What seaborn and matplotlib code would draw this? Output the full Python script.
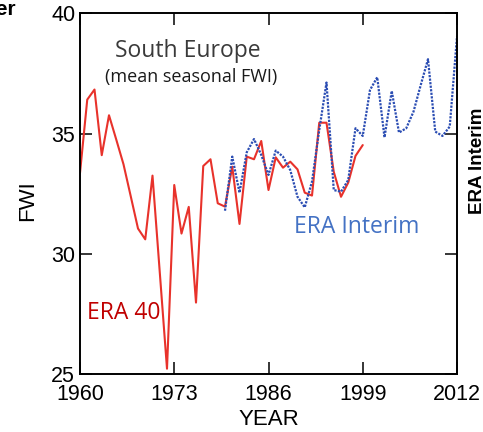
import numpy as np
import pandas as pd
import matplotlib
matplotlib.use("Agg")
import matplotlib.pyplot as plt
import seaborn as sns

# ---- data ----
era40_years = list(range(1960, 2000))
era40_fwi = [33.36, 36.41, 36.83, 34.10, 35.76, 34.75, 33.72, 32.39, 31.05, 30.60,
             33.25, 29.24, 25.22, 32.86, 30.84, 31.95, 27.97, 33.65, 33.93, 32.10,
             31.96, 33.62, 31.24, 34.04, 33.93, 34.69, 32.65, 34.01, 33.58, 33.83,
             33.51, 32.54, 32.42, 35.45, 35.45, 33.41, 32.37, 32.96, 34.07, 34.52]

erai_years = list(range(1980, 2013))
erai_fwi = [31.79, 34.04, 32.54, 34.22, 34.77, 34.11, 33.28, 34.29, 34.04, 33.48,
            32.37, 31.93, 33.00, 35.15, 37.12, 32.65, 32.58, 33.07, 35.22, 34.90,
            36.81, 37.34, 34.84, 36.77, 35.04, 35.22, 35.91, 37.02, 38.09, 35.08,
            34.90, 35.29, 39.03]

x_ticks = [1960, 1973, 1986, 1999, 2012]
y_ticks = [25, 30, 35, 40]

df40 = pd.DataFrame({"YEAR": era40_years, "FWI": era40_fwi})
dfi = pd.DataFrame({"YEAR": erai_years, "FWI": erai_fwi})

sns.set_style("ticks")
plt.rcParams["font.family"] = ["Liberation Sans", "DejaVu Sans"]

W, H = 483, 432
fig = plt.figure(figsize=(W / 100, H / 100), dpi=100)
L, R, T, B = 80, 457, 13.3, 374
ax = fig.add_axes([L / W, 1 - B / H, (R - L) / W, (B - T) / H])

sns.lineplot(data=df40, x="YEAR", y="FWI", ax=ax, color="#E8322B", linewidth=1.5)
sns.lineplot(data=dfi, x="YEAR", y="FWI", ax=ax, color="#2B4DB3", linewidth=1.6,
             linestyle=(0, (1, 0.6)))

ax.set_xlim(1960, 2012)
ax.set_ylim(25, 40)
ax.set_xticks(x_ticks)
ax.set_yticks(y_ticks)
ax.tick_params(direction="in", length=8.5, width=1.1, top=True, right=True,
               labelsize=15.5, colors="black")
ax.tick_params(axis="x", pad=7)
ax.tick_params(axis="y", pad=3.5)
for s in ax.spines.values():
    s.set_visible(True)
    s.set_linewidth(1.4)
    s.set_color("black")

ax.set_xlabel("YEAR", fontsize=16, color="black")
ax.set_ylabel("FWI", fontsize=16, color="black")
ax.xaxis.set_label_coords(0.5, -0.097)
ax.yaxis.set_label_coords(-0.112, 0.482)

def ftext(x, y, s, **kw):
    fig.text(x / W, 1 - y / H, s, **kw)

ftext(187.5, 57.3, "South Europe", ha="center", va="baseline", fontsize=16.5,
      color="#3A3A3A", family=["Open Sans", "DejaVu Sans"])
ftext(191, 81.7, "(mean seasonal FWI)", ha="center", va="baseline", fontsize=13,
      color="#1A1A1A", family=["Open Sans", "DejaVu Sans"])
ftext(294, 233.3, "ERA Interim", ha="left", va="baseline", fontsize=16.5,
      color="#4472C4", family=["Open Sans", "DejaVu Sans"])
ftext(86.7, 319, "ERA 40", ha="left", va="baseline", fontsize=16.5,
      color="#C00000", family=["Open Sans", "DejaVu Sans"])

# clipped labels from neighbouring panels
ftext(16, 15, "Summer", ha="right", va="baseline", fontsize=15, weight="bold",
      color="black")
ftext(469.5, 161, "ERA Interim", ha="left", va="center", rotation=90,
      fontsize=13.5, weight="bold", color="black")

fig.savefig("out.png", dpi=100)
